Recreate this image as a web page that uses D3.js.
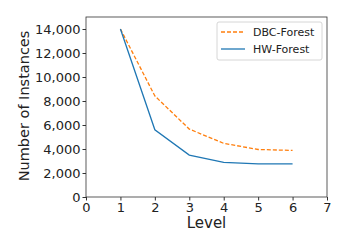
<!DOCTYPE html>
<html><head><meta charset="utf-8">
<script src="https://cdn.jsdelivr.net/npm/d3@7"></script>
<style>body{margin:0;background:#fff;} text{font-family:"DejaVu Sans",sans-serif;}</style>
</head><body><svg id="c" width="349" height="249"></svg>
<script>
const levels = [1, 2, 3, 4, 5, 6];
const dbcForest = [14000, 8420, 5660, 4470, 3960, 3880];
const hwForest = [14000, 5600, 3490, 2880, 2760, 2760];
const xTicks = [0, 1, 2, 3, 4, 5, 6, 7];
const yTicks = [0, 2000, 4000, 6000, 8000, 10000, 12000, 14000];

const svg = d3.select("#c");
const m = {l: 86, t: 17, r: 327, b: 197};
const x = d3.scaleLinear().domain([0, 7]).range([m.l, m.r]);
const y = d3.scaleLinear().domain([0, 15000]).range([m.b, m.t]);

const xa = svg.append("g").attr("transform", `translate(0,${m.b})`)
  .call(d3.axisBottom(x).tickValues(xTicks).tickFormat(d3.format("d")).tickSize(3.5).tickPadding(2));
const ya = svg.append("g").attr("transform", `translate(${m.l},0)`)
  .call(d3.axisLeft(y).tickValues(yTicks).tickFormat(d3.format(",")).tickSize(3.5).tickPadding(2));
[xa, ya].forEach(a => {
  a.selectAll("text").attr("font-size", 13).attr("fill", "#222").style("font-family", "DejaVu Sans");
  a.selectAll("line").attr("stroke", "#333");
  a.select(".domain").attr("stroke", "none");
});
svg.append("rect").attr("x", m.l).attr("y", m.t).attr("width", m.r - m.l).attr("height", m.b - m.t)
  .attr("fill", "none").attr("stroke", "#333").attr("stroke-width", 0.8);

const line = d3.line().x((d, i) => x(levels[i])).y(d => y(d));
svg.append("path").datum(dbcForest).attr("d", line).attr("fill", "none")
  .attr("stroke", "#ff7f0e").attr("stroke-width", 1.3).attr("stroke-dasharray", "4,2");
svg.append("path").datum(hwForest).attr("d", line).attr("fill", "none")
  .attr("stroke", "#1f77b4").attr("stroke-width", 1.3);

svg.append("text").attr("x", (m.l + m.r) / 2).attr("y", 228).attr("text-anchor", "middle")
  .attr("font-size", 15).attr("fill", "#222").text("Level");
svg.append("text").attr("transform", `translate(29,${(m.t + m.b) / 2 - 1}) rotate(-90)`)
  .attr("text-anchor", "middle").attr("font-size", 14.5).attr("fill", "#222").text("Number of Instances");

const lg = svg.append("g");
lg.append("rect").attr("x", 217).attr("y", 22).attr("width", 105).attr("height", 38).attr("rx", 2)
  .attr("fill", "#fff").attr("stroke", "#ccc").attr("stroke-width", 0.8);
const items = [{n: "DBC-Forest", c: "#ff7f0e", d: "4,2"}, {n: "HW-Forest", c: "#1f77b4", d: null}];
items.forEach((it, i) => {
  const yy = 32 + i * 17;
  lg.append("line").attr("x1", 221).attr("x2", 245).attr("y1", yy).attr("y2", yy)
    .attr("stroke", it.c).attr("stroke-width", 1.3).attr("stroke-dasharray", it.d);
  lg.append("text").attr("x", 253).attr("y", yy + 4).attr("font-size", 11).attr("fill", "#222").text(it.n);
});
</script></body></html>
